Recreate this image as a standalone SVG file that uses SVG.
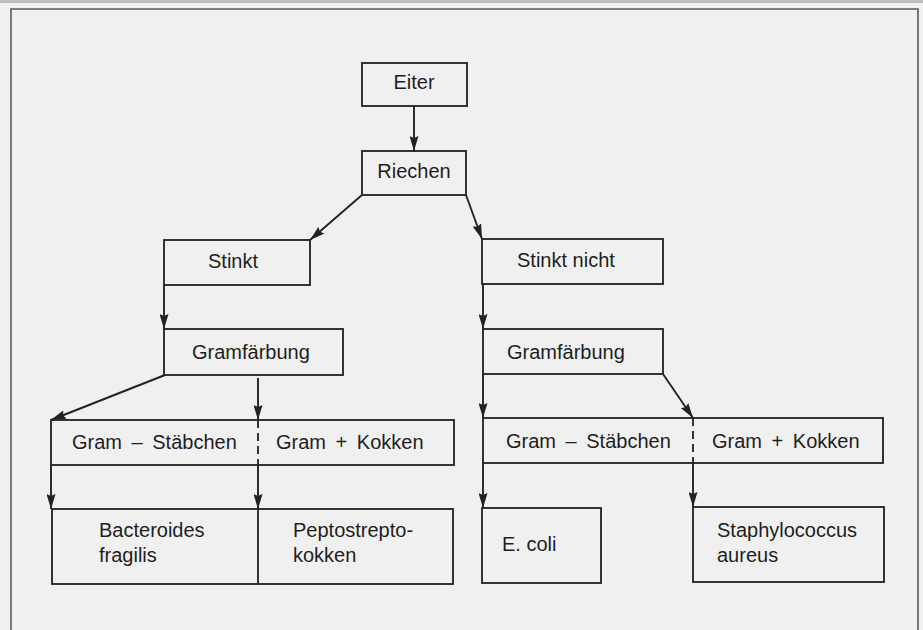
<svg xmlns="http://www.w3.org/2000/svg" width="923" height="630" viewBox="0 0 923 630">
<defs>
<marker id="ah" viewBox="0 0 15 9" refX="15" refY="4.5" markerWidth="15" markerHeight="9" markerUnits="userSpaceOnUse" orient="auto">
<path d="M0,0 L15,4.5 L0,9 L2,4.5 Z" fill="#222"/>
</marker>
<style>
.bx{fill:none;stroke:#2a2a2a;stroke-width:1.9}
.ln{fill:none;stroke:#2a2a2a;stroke-width:1.9}
.ar{fill:none;stroke:#222;stroke-width:1.9;marker-end:url(#ah)}
.ds{fill:none;stroke:#2a2a2a;stroke-width:1.9;stroke-dasharray:8 5}
.t{font-family:"Liberation Sans",Arial,Helvetica,sans-serif;font-size:20px;fill:#1e1e1e}
.c{text-anchor:middle}
</style>
</defs>
<rect x="0" y="0" width="923" height="630" fill="#f0f0f0"/>
<rect x="0" y="0" width="923" height="3" fill="#bdbdbd"/>
<path d="M11,640 L11,9 L918,9 L918,640" fill="none" stroke="#5a5a5a" stroke-width="1.6"/>

<g id="eiter"><rect class="bx" x="362" y="63" width="105" height="43"/><text class="t c" x="414" y="89">Eiter</text></g>
<g id="riechen"><rect class="bx" x="362" y="151" width="104" height="44"/><text class="t c" x="414" y="178">Riechen</text></g>
<g id="stinkt"><rect class="bx" x="164" y="240" width="146" height="45"/><text class="t" x="208" y="268">Stinkt</text></g>
<g id="stinkt-nicht"><rect class="bx" x="482" y="239" width="181" height="45"/><text class="t" x="517" y="267">Stinkt nicht</text></g>
<g id="gram-left"><rect class="bx" x="164" y="329" width="179" height="46"/><text class="t" x="192" y="359">Gramfärbung</text></g>
<g id="gram-right"><rect class="bx" x="483" y="329" width="180" height="45"/><text class="t" x="507" y="359">Gramfärbung</text></g>
<g id="row-left">
<rect class="bx" x="51" y="420" width="403" height="45"/>
<line class="ds" x1="258" y1="420" x2="258" y2="465"/>
<text class="t" x="72" y="449" word-spacing="4">Gram – Stäbchen</text>
<text class="t" x="276" y="449" word-spacing="4">Gram + Kokken</text>
</g>
<g id="row-right">
<rect class="bx" x="483" y="418" width="400" height="45"/>
<line class="ds" x1="693" y1="418" x2="693" y2="463"/>
<text class="t" x="506" y="448" word-spacing="4">Gram – Stäbchen</text>
<text class="t" x="712" y="448" word-spacing="4">Gram + Kokken</text>
</g>
<g id="bacteroides-pepto">
<rect class="bx" x="52" y="509" width="401" height="75"/>
<line class="ln" x1="258" y1="509" x2="258" y2="584"/>
<text class="t" x="99" y="537">Bacteroides</text>
<text class="t" x="99" y="562">fragilis</text>
<text class="t" x="293" y="537">Peptostrepto-</text>
<text class="t" x="293" y="562">kokken</text>
</g>
<g id="ecoli"><rect class="bx" x="482" y="508" width="119" height="75"/><text class="t" x="502" y="551">E. coli</text></g>
<g id="staph"><rect class="bx" x="693" y="507" width="191" height="75"/><text class="t" x="717" y="537">Staphylococcus</text><text class="t" x="717" y="562">aureus</text></g>

<g id="connectors">
<line class="ar" x1="414" y1="106" x2="414" y2="151"/>
<line class="ar" x1="362" y1="195" x2="310" y2="240"/>
<line class="ar" x1="466" y1="195" x2="482" y2="239"/>
<line class="ar" x1="164" y1="285" x2="164" y2="329"/>
<line class="ar" x1="483" y1="284" x2="483" y2="329"/>
<line class="ar" x1="165" y1="375" x2="51" y2="420"/>
<line class="ar" x1="258" y1="378" x2="258" y2="420"/>
<line class="ar" x1="483" y1="374" x2="483" y2="418"/>
<line class="ar" x1="663" y1="374" x2="693" y2="418"/>
<line class="ar" x1="51" y1="465" x2="51" y2="509"/>
<line class="ar" x1="258" y1="465" x2="258" y2="509"/>
<line class="ar" x1="483" y1="463" x2="483" y2="508"/>
<line class="ar" x1="693" y1="463" x2="693" y2="507"/>
</g>
</svg>
